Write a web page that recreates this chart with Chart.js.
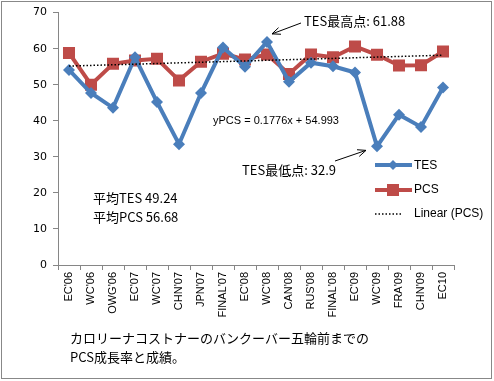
<!DOCTYPE html>
<html>
<head>
<meta charset="utf-8">
<script src="https://cdn.jsdelivr.net/npm/chart.js@4"></script>
<style>
html,body{margin:0;padding:0;background:#fff;}
#wrap{position:relative;width:494px;height:381px;}
canvas{display:block;}
</style>
</head>
<body>
<div id="wrap"><canvas id="c" width="494" height="381"></canvas></div>
<script>
const categories = ["EC'06","WC'06","OWG'06","EC'07","WC'07","CHN'07","JPN'07","FINAL'07","EC'08","WC'08","CAN'08","RUS'08","FINAL'08","EC'09","WC'09","FRA'09","CHN'09","EC10"];
const tesValues = [54.1,47.7,43.6,57.6,45.2,33.5,47.7,60.3,55.0,61.88,50.8,56.1,55.1,53.4,32.9,41.7,38.3,49.2];
const pcsValues = [58.8,50.0,55.8,56.7,57.2,51.2,56.4,58.6,57.0,58.4,53.0,58.4,57.6,60.6,58.3,55.3,55.4,59.2];
// linear trend of PCS shown in the chart: y = 0.1776x + 54.993 (endpoints)
const trendPCS = [55.17,null,null,null,null,null,null,null,null,null,null,null,null,null,null,null,null,58.19];
const yTicks = [0,10,20,30,40,50,60,70];
const legendLabels = ["TES","PCS","Linear (PCS)"];
const annotationMax = "TES最高点: 61.88";
const annotationMin = "TES最低点: 32.9";
const trendLabel = "yPCS = 0.1776x + 54.993";
const avgLines = ["平均TES 49.24","平均PCS 56.68"];
const captionLines = ["カロリーナコストナーのバンクーバー五輪前までの","PCS成長率と成績。"];

const BLUE = '#4A7EBB', RED = '#BE4B48';

function arrow(ctx, x1, y1, x2, y2){
  ctx.save();
  ctx.strokeStyle = '#000'; ctx.lineWidth = 1;
  ctx.beginPath(); ctx.moveTo(x1,y1); ctx.lineTo(x2,y2); ctx.stroke();
  const a = Math.atan2(y2-y1, x2-x1), L = 9;
  ctx.beginPath();
  ctx.moveTo(x2 - L*Math.cos(a-0.4), y2 - L*Math.sin(a-0.4));
  ctx.lineTo(x2,y2);
  ctx.lineTo(x2 - L*Math.cos(a+0.4), y2 - L*Math.sin(a+0.4));
  ctx.stroke();
  ctx.restore();
}

const deco = {
  id:'deco',
  afterDatasetsDraw(chart){
    const ctx = chart.ctx;
    const xs = chart.scales.x, ys = chart.scales.y;
    ctx.save();
    // outer border
    ctx.strokeStyle = '#888'; ctx.lineWidth = 1;
    ctx.strokeRect(1.5,1.5,490,377);
    ctx.fillStyle = '#000';
    ctx.textBaseline = 'middle';
    ctx.font = '13px "Noto Sans CJK JP"';
    // max annotation
    const iMax = tesValues.indexOf(Math.max(...tesValues));
    const pxM = xs.getPixelForValue(iMax), pyM = ys.getPixelForValue(tesValues[iMax]);
    ctx.fillText(annotationMax, 304, 21);
    arrow(ctx, 301, 23, pxM+5, pyM-8);
    // min annotation
    const iMin = tesValues.indexOf(Math.min(...tesValues));
    const pxm = xs.getPixelForValue(iMin), pym = ys.getPixelForValue(tesValues[iMin]);
    ctx.fillText(annotationMin, 242, 170);
    arrow(ctx, 335, 161, pxm-11, pym+4);
    // trend equation
    ctx.font = '11px "Liberation Sans"';
    ctx.fillText(trendLabel, 213, 121);
    // averages
    ctx.font = '13px "Noto Sans CJK JP"';
    ctx.fillText(avgLines[0], 93, 198);
    ctx.fillText(avgLines[1], 93, 217);
    // caption
    ctx.fillText(captionLines[0], 70, 338);
    ctx.fillText(captionLines[1], 70, 357);
    // legend
    const lx = 375, lw = 37;
    ctx.font = '12px "Liberation Sans"';
    // TES
    ctx.strokeStyle = BLUE; ctx.lineWidth = 4;
    ctx.beginPath(); ctx.moveTo(lx,165); ctx.lineTo(lx+lw,165); ctx.stroke();
    ctx.fillStyle = BLUE;
    ctx.beginPath(); ctx.moveTo(lx+18,160); ctx.lineTo(lx+23,165); ctx.lineTo(lx+18,170); ctx.lineTo(lx+13,165); ctx.closePath(); ctx.fill();
    // PCS
    ctx.strokeStyle = RED; ctx.lineWidth = 4;
    ctx.beginPath(); ctx.moveTo(lx,190); ctx.lineTo(lx+lw,190); ctx.stroke();
    ctx.fillStyle = RED; ctx.fillRect(lx+12,184,12,12);
    // linear
    ctx.strokeStyle = '#000'; ctx.lineWidth = 1.5; ctx.setLineDash([1.5,2]);
    ctx.beginPath(); ctx.moveTo(lx,214); ctx.lineTo(lx+27,214); ctx.stroke();
    ctx.setLineDash([]);
    ctx.fillStyle = '#000';
    ctx.fillText(legendLabels[0], 414, 166);
    ctx.fillText(legendLabels[1], 414, 190);
    ctx.fillText(legendLabels[2], 414, 214);
    ctx.restore();
  }
};

new Chart(document.getElementById('c'), {
  type:'line',
  data:{
    labels: categories,
    datasets:[
      {label:'Linear (PCS)', data: trendPCS, spanGaps:true, borderColor:'#000', borderWidth:1.5, borderDash:[1.5,2], pointRadius:0, order:0},
      {label:'PCS', data: pcsValues, borderColor:RED, backgroundColor:RED, borderWidth:4, pointStyle:'rect', pointRadius:8.5, pointBorderWidth:0, pointBackgroundColor:RED, order:2},
      {label:'TES', data: tesValues, borderColor:BLUE, backgroundColor:BLUE, borderWidth:4, pointStyle:'rectRot', pointRadius:6, pointBorderWidth:0, pointBackgroundColor:BLUE, order:1}
    ]
  },
  options:{
    responsive:false, animation:false,
    layout:{padding:{left:0,top:12,right:40,bottom:0}},
    plugins:{legend:{display:false}, tooltip:{enabled:false}},
    elements:{line:{tension:0}},
    scales:{
      x:{
        offset:true,
        grid:{drawOnChartArea:false, drawTicks:true, tickLength:5, color:'#868686', offset:true},
        border:{color:'#868686'},
        ticks:{maxRotation:90, minRotation:90, autoSkip:false, color:'#000', font:{family:'Liberation Sans', size:11}, padding:2},
        afterFit(s){ s.height = 116; }
      },
      y:{
        min:0, max:70,
        afterBuildTicks(s){ s.ticks = yTicks.map(v=>({value:v})); },
        grid:{drawOnChartArea:false, drawTicks:true, tickLength:5, color:'#868686'},
        border:{color:'#868686'},
        ticks:{color:'#000', font:{family:'DejaVu Sans', size:11}, padding:6},
        afterFit(s){ s.width = 58; }
      }
    }
  },
  plugins:[deco]
});
</script>
</body>
</html>
